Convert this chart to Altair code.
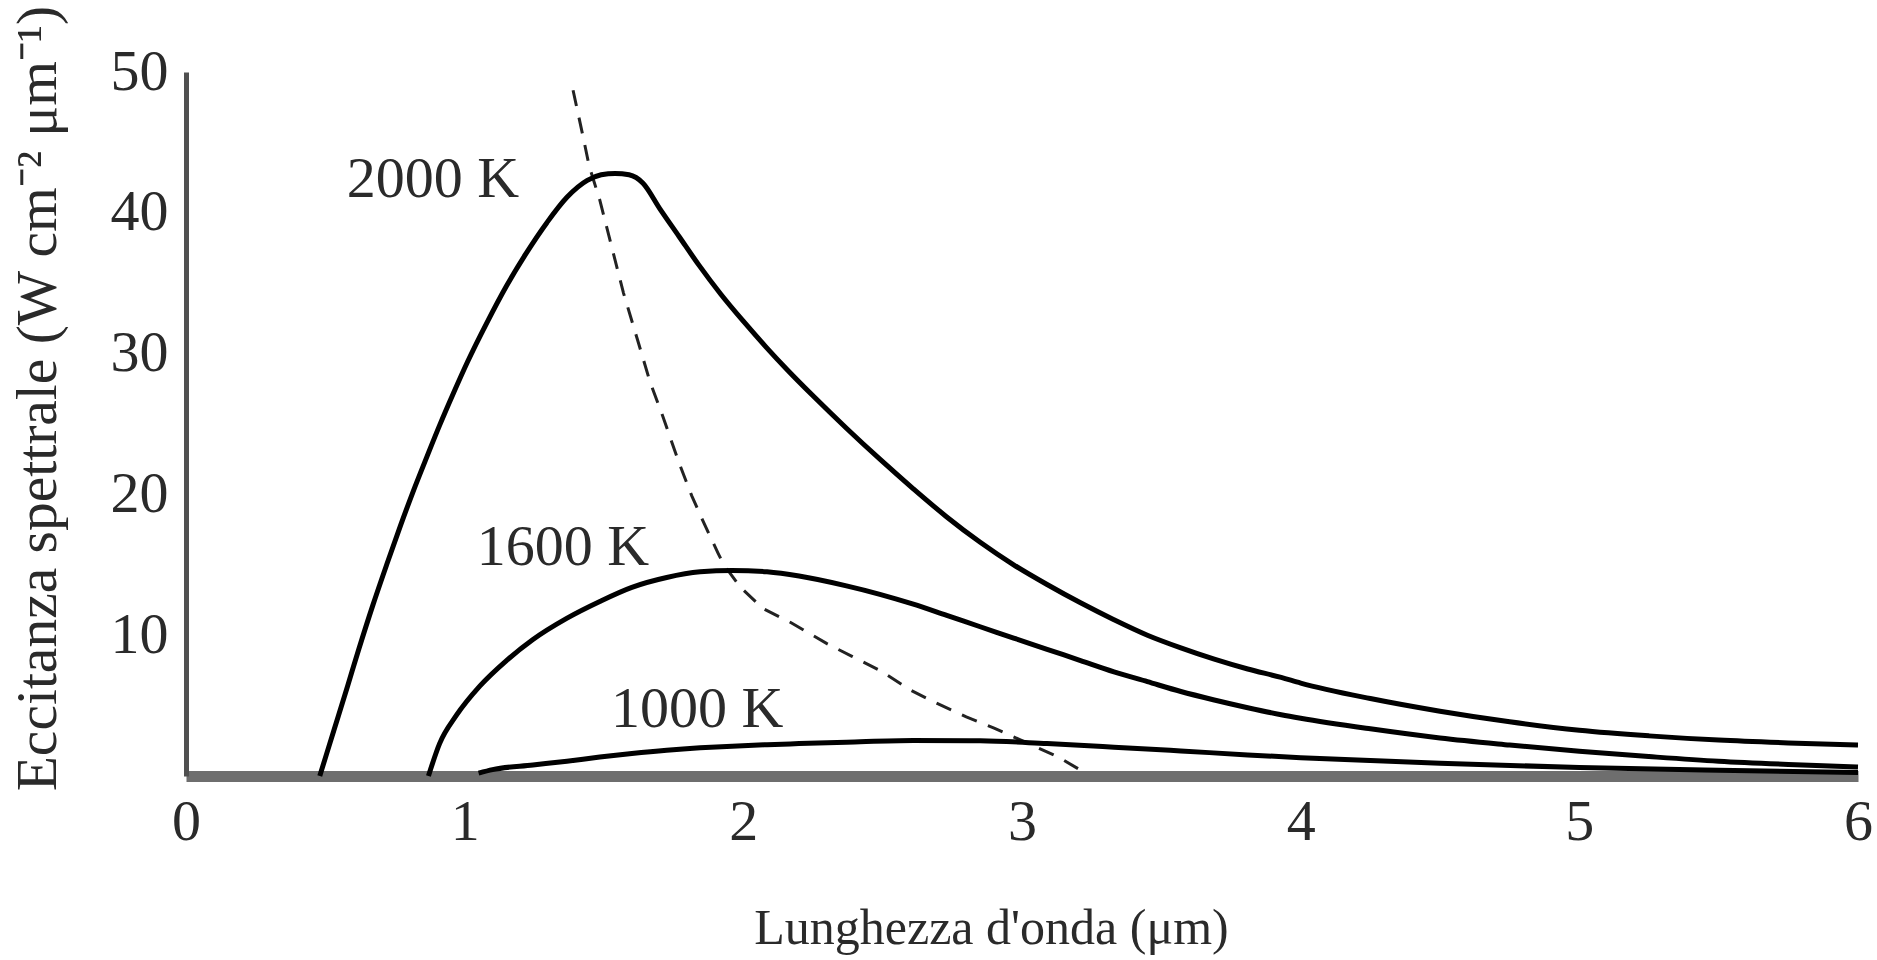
import altair as alt
import pandas as pd

# ---- data ----
x_2000 = [0.48, 0.53, 0.58, 0.62, 0.67, 0.72, 0.77, 0.815, 0.865, 0.91, 0.96, 1.01, 1.08, 1.15,
          1.22, 1.295, 1.367, 1.44, 1.49, 1.54, 1.59, 1.64, 1.70, 1.77, 1.84, 1.92, 2.0, 2.08,
          2.16, 2.25, 2.37, 2.49, 2.61, 2.73, 2.85, 2.97, 3.09, 3.21, 3.33, 3.45, 3.57, 3.69,
          3.81, 3.93, 4.0, 4.25, 4.5, 4.75, 5.0, 5.25, 5.5, 5.75, 6.0]
y_2000 = [0.0, 3.2, 6.4, 9.0, 12.1, 15.0, 17.8, 20.2, 22.7, 24.9, 27.2, 29.4, 32.2, 34.8,
          37.1, 39.3, 41.1, 42.3, 42.7, 42.8, 42.7, 42.1, 40.3, 38.3, 36.3, 34.2, 32.3, 30.5,
          28.8, 27.0, 24.7, 22.5, 20.4, 18.4, 16.6, 15.0, 13.6, 12.3, 11.1, 10.0, 9.1, 8.3,
          7.6, 7.0, 6.6, 5.5, 4.6, 3.85, 3.25, 2.85, 2.55, 2.35, 2.2]

x_1600 = [0.87, 0.91, 0.97, 1.055, 1.15, 1.245, 1.366, 1.485, 1.60, 1.725, 1.845, 1.96, 2.085,
          2.2, 2.37, 2.49, 2.61, 2.73, 2.85, 2.97, 3.09, 3.21, 3.33, 3.45, 3.57, 3.69, 3.81,
          3.93, 4.0, 4.25, 4.5, 4.75, 5.0, 5.25, 5.5, 5.75, 6.0]
y_1600 = [0.0, 2.3, 4.3, 6.4, 8.2, 9.7, 11.2, 12.4, 13.4, 14.1, 14.5, 14.6, 14.5,
          14.2, 13.5, 12.9, 12.2, 11.4, 10.6, 9.8, 9.0, 8.2, 7.4, 6.7, 6.0, 5.4, 4.85,
          4.35, 4.1, 3.35, 2.7, 2.2, 1.75, 1.38, 1.05, 0.82, 0.64]

x_1000 = [1.05, 1.10, 1.245, 1.367, 1.485, 1.60, 1.725, 1.845, 1.96, 2.085, 2.2, 2.37, 2.61,
          2.85, 3.09, 3.33, 3.57, 3.81, 4.0, 4.5, 5.0, 5.5, 6.0]
y_1000 = [0.2, 0.45, 0.78, 1.05, 1.35, 1.6, 1.83, 2.0, 2.12, 2.22, 2.3, 2.4, 2.52,
          2.5, 2.3, 2.05, 1.78, 1.5, 1.3, 0.9, 0.6, 0.4, 0.25]

x_dash = [1.389, 1.425, 1.447, 1.485, 1.53, 1.57, 1.62, 1.665, 1.71, 1.77, 1.815, 1.86, 1.91,
          1.93, 1.99, 2.07, 2.17, 2.30, 2.39, 2.49, 2.60, 2.69, 2.80, 2.90, 3.13, 3.22]
y_dash = [48.7, 45.4, 43.3, 40.9, 37.4, 34.3, 31.0, 28.0, 25.6, 22.2, 19.9, 17.9, 15.8,
          15.0, 13.4, 11.9, 10.9, 9.4, 8.5, 7.5, 6.1, 5.2, 4.2, 3.4, 1.35, 0.3]

label_text = ["2000 K", "1600 K", "1000 K"]
label_x = [0.886, 1.353, 1.834]
label_y = [42.3, 16.2, 4.7]

x_ticks = [0, 1, 2, 3, 4, 5, 6]
y_ticks = [10, 20, 30, 40, 50]

FONT = "Liberation Serif"
TXT = "#2a2a2a"

curves = pd.concat([
    pd.DataFrame({"x": x_2000, "y": y_2000, "T": "2000"}),
    pd.DataFrame({"x": x_1600, "y": y_1600, "T": "1600"}),
    pd.DataFrame({"x": x_1000, "y": y_1000, "T": "1000"}),
], ignore_index=True)
dash = pd.DataFrame({"x": x_dash, "y": y_dash})
labels = pd.DataFrame({"text": label_text, "x": label_x, "y": label_y})

xscale = alt.Scale(domain=[0, 6], nice=False, zero=False)
yscale = alt.Scale(domain=[0, 50], nice=False, zero=False)

xaxis = alt.Axis(values=x_ticks, format="d", grid=False, ticks=False, tickSize=0,
                 domainColor="#6e6e6e", domainWidth=11,
                 labelFont=FONT, labelFontSize=58, labelColor=TXT, labelPadding=17,
                 labelFlush=False,
                 title="Lunghezza d'onda (μm)", titleFont=FONT, titleFontSize=50,
                 titleFontWeight="normal", titleColor=TXT,
                 titleX=805, titleY=167, titleAlign="center", titleBaseline="alphabetic")
yaxis = alt.Axis(values=y_ticks, format="d", grid=False, ticks=False, tickSize=0,
                 domainColor="#505050", domainWidth=5,
                 labelFont=FONT, labelFontSize=58, labelColor=TXT, labelPadding=18,
                 title="Eccitanza spettrale (W cm⁻² μm⁻¹)", titleFont=FONT, titleFontSize=57.5,
                 titleFontWeight="normal", titleColor=TXT, titleAngle=270,
                 titleX=-131, titleY=326, titleAlign="center", titleBaseline="alphabetic")

lines = alt.Chart(curves).mark_line(color="black", strokeWidth=5, interpolate="monotone").encode(
    x=alt.X("x:Q", scale=xscale, axis=xaxis),
    y=alt.Y("y:Q", scale=yscale, axis=yaxis),
    detail="T:N",
)

dashed = alt.Chart(dash).mark_line(color="#222222", strokeWidth=3, strokeDash=[16, 12]).encode(
    x=alt.X("x:Q", scale=xscale),
    y=alt.Y("y:Q", scale=yscale),
)

texts = alt.Chart(labels).mark_text(font=FONT, fontSize=58, color=TXT, align="center",
                                    baseline="middle").encode(
    x=alt.X("x:Q", scale=xscale),
    y=alt.Y("y:Q", scale=yscale),
    text="text:N",
)

chart = alt.layer(dashed, lines, texts).properties(
    width=1672, height=704,
    autosize=alt.AutoSizeParams(type="none"),
    padding={"left": 186, "top": 72, "right": 19, "bottom": 184},
    background="white",
).configure_view(stroke=None)

chart.save("out.html", embed_options={"renderer": "svg", "actions": False})
